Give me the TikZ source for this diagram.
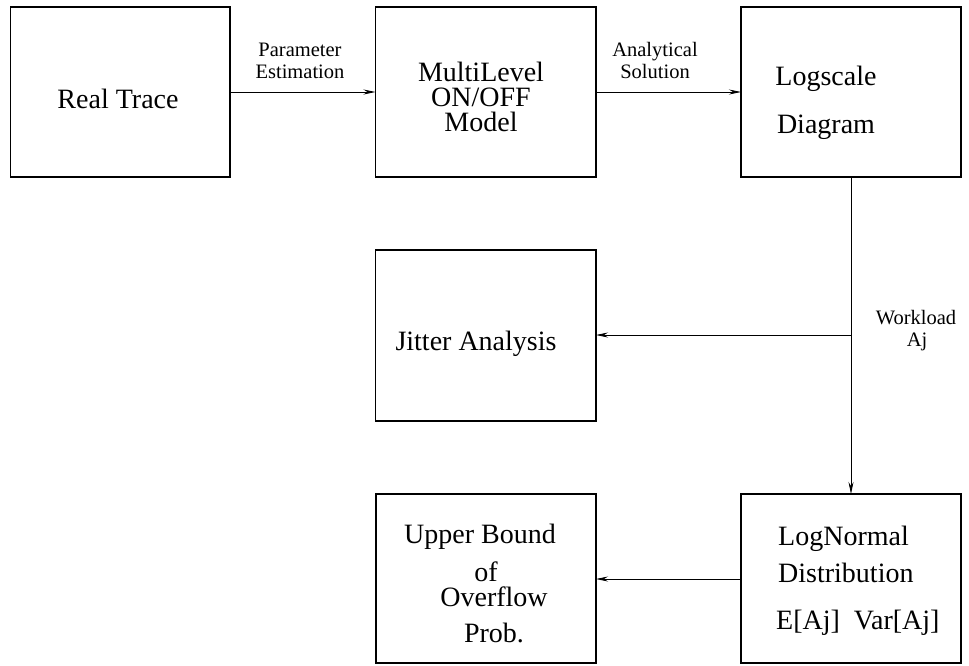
\documentclass[tikz,border=0pt]{standalone}
\usepackage{fontspec}
\setmainfont{Liberation Serif}
\usetikzlibrary{arrows.meta}
\tikzset{
  blockbox/.style={draw=black, line width=1.1pt},
  flow/.style={line width=0.9pt, -{Stealth[length=12pt,width=5pt,inset=4pt]}},
  bigtxt/.style={font=\fontsize{28}{30}\selectfont, inner sep=0pt, anchor=base},
  smalltxt/.style={font=\fontsize{20.5}{22}\selectfont, inner sep=0pt, anchor=base},
}
\begin{document}
\begin{tikzpicture}[x=1pt, y=-1pt]
\useasboundingbox (0,0) rectangle (969,665);

% blocks
\draw[blockbox] (10.5,7) rectangle (230,177);
\draw[blockbox] (375.5,7) rectangle (596,177);
\draw[blockbox] (741,7) rectangle (961,177);
\draw[blockbox] (375.5,250) rectangle (596,421);
\draw[blockbox] (376,494) rectangle (596,663);
\draw[blockbox] (741,494) rectangle (961,663);

% connector end points on the block edges
\coordinate (b1e) at (230,92);
\coordinate (b2w) at (375.5,92);
\coordinate (b2e) at (596,92);
\coordinate (b3w) at (741,92);
\coordinate (b3s) at (851,177);
\coordinate (split) at (851,335);
\coordinate (b4e) at (596,335);
\coordinate (b6n) at (851,494);
\coordinate (b6w) at (741,579);
\coordinate (b5e) at (596,579);

% block texts
\node[bigtxt] (rt) at (118,108) {Real Trace};
\node[bigtxt] (ml1) at (481,81) {MultiLevel};
\node[bigtxt] (ml2) at (481,106) {ON/OFF};
\node[bigtxt] (ml3) at (481,131) {Model};
\node[bigtxt] (ls1) at (826,85) {Logscale};
\node[bigtxt] (ls2) at (826,133) {Diagram};
\node[bigtxt] (ja) at (476,350) {Jitter Analysis};
\node[bigtxt] (ub1) at (480,543) {Upper Bound};
\node[bigtxt] (ub2) at (486,581) {of};
\node[bigtxt] (ub3) at (494,606) {Overflow};
\node[bigtxt] (ub4) at (494,642) {Prob.};
\node[bigtxt, anchor=base west] (ln1) at (778,545) {LogNormal};
\node[bigtxt, anchor=base west] (ln2) at (778,582) {Distribution};
\node[bigtxt, anchor=base west] (ln3) at (776,629) {E[Aj]\ \ Var[Aj]};

% connector labels
\node[smalltxt] (pe1) at (300,56) {Parameter};
\node[smalltxt] (pe2) at (300,78) {Estimation};
\node[smalltxt] (as1) at (655,56) {Analytical};
\node[smalltxt] (as2) at (655,78) {Solution};
\node[smalltxt] (wl1) at (916,324) {Workload};
\node[smalltxt] (wl2) at (917,346) {Aj};

% connectors
\draw[flow] (b1e) -- (b2w);
\draw[flow] (b2e) -- (b3w);
\draw[line width=0.9pt] (b3s) -- (split);
\draw[flow] (split) -- (b6n);
\draw[flow] (split) -- (b4e);
\draw[flow] (b6w) -- (b5e);
\end{tikzpicture}
\end{document}
